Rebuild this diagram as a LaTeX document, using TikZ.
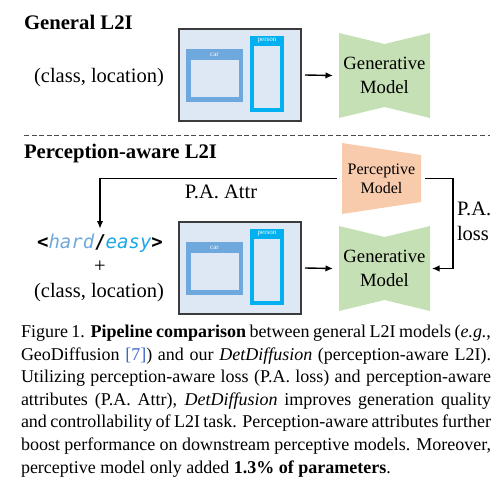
\documentclass[tikz,border=0pt]{standalone}
\usepackage{fontspec}
\setmainfont{Liberation Serif}
\newfontfamily\hemono{DejaVu Sans Mono}
\usetikzlibrary{arrows.meta,calc}
\definecolor{laybg}{HTML}{DEE8F4}
\definecolor{layborder}{HTML}{3C3C3C}
\definecolor{carc}{HTML}{6FA8DC}
\definecolor{personc}{HTML}{00B0F0}
\definecolor{genc}{HTML}{C5E0B4}
\definecolor{percc}{HTML}{F8CBAD}
\definecolor{hardc}{HTML}{6FA8DC}
\definecolor{easyc}{HTML}{1AA7E8}
\definecolor{citec}{HTML}{3A66C4}
\definecolor{dashc}{HTML}{4A4A4A}
\pgfdeclarelayer{bg}
\pgfsetlayers{bg,main}
\tikzset{
  every node/.style={inner sep=0pt, outer sep=0pt},
  conn/.style={line width=1.4pt, -{Latex[length=7.5pt,width=6.5pt]}},
  title/.style={font=\bfseries\fontsize{20.7}{24}\selectfont},
  lbl/.style={font=\fontsize{20.5}{25}\selectfont, align=center},
  genbox/.style={minimum width=91pt, minimum height=85pt, align=center,
    font=\fontsize{18.7}{24}\selectfont},
  percbox/.style={minimum width=79pt, minimum height=71pt, align=center,
    font=\fontsize{16}{19}\selectfont},
  tinylbl/.style={font=\fontsize{7}{8}\selectfont, text=white},
  capline/.style={anchor=base west, font=\fontsize{18}{22}\selectfont},
  layout/.pic={
    \node[draw=layborder, line width=1.3pt, fill=laybg, minimum width=122pt,
      minimum height=92pt, anchor=north west] (-frame) at (0,0) {};
    \fill[carc] (7,20) rectangle (64,73);
    \fill[laybg] (11.5,31) rectangle (59.5,68.5);
    \node[tinylbl] (-car) at (35.5,25.5) {car};
    \fill[personc] (71,7) rectangle (105,83);
    \fill[laybg] (75,17) rectangle (101,79);
    \node[tinylbl] (-person) at (88,12) {person};
  }
}
\begin{document}
\begin{tikzpicture}[x=1pt,y=-1pt]
\useasboundingbox (0,0) rectangle (504,481);
% ---------- General L2I ----------
\node[title, anchor=base west] (t1) at (24,29.3) {General L2I};
\node[lbl, anchor=base] (in1) at (99,83) {(class, location)};
\pic (L1) at (179,29) {layout};
\node[genbox] (gen1) at (384.5,75.5) {Generative\\Model};
\draw[conn] ([xshift=4pt]L1-frame.east) -- ([xshift=-6pt]gen1.west);
% separator
\coordinate (dl) at (24,136);
\coordinate (dr) at (490,136);
\draw[dashc, line width=1pt, dash pattern=on 5pt off 2.6pt] (dl) -- (dr);
% ---------- Perception-aware L2I ----------
\node[title, anchor=base west] (t2) at (24,158.5) {Perception-aware L2I};
\node[percbox] (perc) at (381.5,178.5) {Perceptive\\Model};
\node[font=\hemono\fontsize{19}{22}\selectfont, anchor=base] (attr) at (100,249)
  {\textbf{<}\textcolor{hardc}{\itshape hard}\textbf{/}\textcolor{easyc}{\itshape easy}\textbf{>}};
\node[lbl] (plus) at (100,267) {+};
\node[lbl, anchor=base] (in2) at (99,298) {(class, location)};
\pic (L2) at (179,222) {layout};
\node[genbox] (gen2) at (384.5,268.5) {Generative\\Model};
\draw[conn] ([xshift=4pt]L2-frame.east) -- ([xshift=-6pt]gen2.west);
\draw[conn] ([xshift=-5pt]perc.west) -| ([yshift=6pt]attr.north);
\node[lbl] (attrlbl) at (221,192) {P.A. Attr};
\draw[conn] ([xshift=4pt]perc.east) -- ++(28,0) |- ([xshift=2pt]gen2.east);
\node[lbl, align=left, anchor=west] (losslbl) at (457,221) {P.A.\\loss};
% shape fills
\begin{pgfonlayer}{bg}
  \fill[genc] (gen1.north west) -- ($(gen1.north)+(0,11)$) -- (gen1.north east)
    -- (gen1.south east) -- ($(gen1.south)+(0,-11)$) -- (gen1.south west) -- cycle;
  \fill[genc] (gen2.north west) -- ($(gen2.north)+(0,11)$) -- (gen2.north east)
    -- (gen2.south east) -- ($(gen2.south)+(0,-11)$) -- (gen2.south west) -- cycle;
  \fill[percc] (perc.north west) -- ($(perc.north east)+(0,12)$)
    -- ($(perc.south east)+(0,-12)$) -- (perc.south west) -- cycle;
\end{pgfonlayer}
% ---------- caption ----------
\node[capline] (c1) at (21,338) {\makebox[470pt][s]{Figure 1. \textbf{Pipeline comparison} between general L2I models (\textit{e.g.},}};
\node[capline] (c2) at (21,360.5) {\makebox[470pt][s]{GeoDiffusion \textcolor{citec}{[7]}) and our \textit{DetDiffusion} (perception-aware L2I).}};
\node[capline] (c3) at (21,383) {\makebox[470pt][s]{Utilizing perception-aware loss (P.A. loss) and perception-aware}};
\node[capline] (c4) at (21,405.5) {\makebox[470pt][s]{attributes (P.A. Attr), \textit{DetDiffusion} improves generation quality}};
\node[capline] (c5) at (21,428) {\makebox[470pt][s]{and controllability of L2I task. Perception-aware attributes further}};
\node[capline] (c6) at (21,450.5) {\makebox[470pt][s]{boost performance on downstream perceptive models. Moreover,}};
\node[capline] (c7) at (21,473) {perceptive model only added \textbf{1.3\% of parameters}.};
\end{tikzpicture}
\end{document}
